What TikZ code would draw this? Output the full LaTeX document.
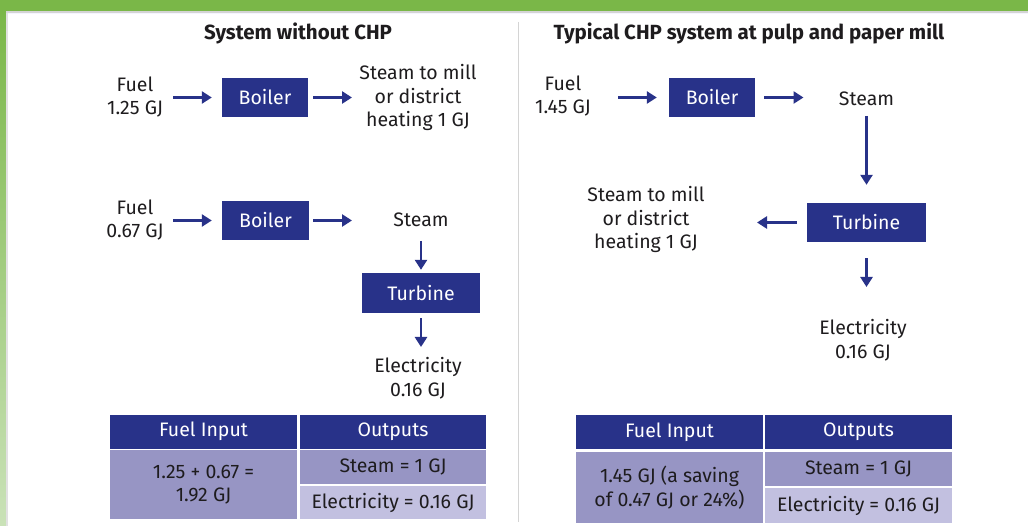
\documentclass[tikz,border=0pt]{standalone}
\usepackage{fontspec}
\setmainfont{Fira Sans}
\usetikzlibrary{arrows.meta}
\definecolor{navy}{RGB}{40,50,137}
\definecolor{lav}{RGB}{151,149,196}
\definecolor{lavl}{RGB}{194,192,224}
\definecolor{grn}{RGB}{122,183,72}
\definecolor{grnl}{RGB}{202,226,184}
\definecolor{txt}{RGB}{30,28,30}
\definecolor{divgray}{RGB}{212,212,212}
\begin{document}
\begin{tikzpicture}[x=1pt,y=-1pt,
  every node/.style={font=\fontsize{19.5}{23.5}\selectfont, text=txt, inner sep=0pt},
  lbl/.style={align=center},
  ttl/.style={font=\fontsize{20.5}{24}\selectfont\bfseries},
  box/.style={fill=navy, text=white, minimum height=39},
  hcell/.style={fill=navy, text=white, minimum width=187, minimum height=34},
  cell/.style={fill=lav, align=center, minimum width=187},
  cellb/.style={fill=lavl, align=center, minimum width=187},
  arr/.style={draw=navy, line width=2.6pt, -{Triangle[length=10pt,width=12pt]}}]
\useasboundingbox (0,0) rectangle (1028,526);
% frame
\fill[white] (0,0) rectangle (1028,526);
\fill[grn] (0,0) rectangle (1028,11);
\shade[top color=grn, bottom color=grnl] (0,11) rectangle (6,526);
\fill[divgray] (6,11) rectangle (1028,13);
\fill[blue!4] (6,13) rectangle (1028,14.5);
\fill[divgray!70] (6,13) rectangle (8,526);
% divider
\draw[divgray, line width=1.6pt] (518.5,22) -- (518.5,522);
% titles
\node[ttl] (title1) at (298,33) {System without CHP};
\node[ttl] (title2) at (749,33) {Typical CHP system at pulp and paper mill};
% left diagram
\node[lbl] (fuel1) at (135,97) {Fuel\\1.25 GJ};
\node[box, minimum width=86] (boiler1) at (265,97.5) {Boiler};
\node[lbl] (mill1) at (418,97.5) {Steam to mill\\or district\\heating 1 GJ};
\node[lbl] (fuel2) at (135,220) {Fuel\\0.67 GJ};
\node[box, minimum width=87] (boiler2) at (265.5,220.5) {Boiler};
\node (steam1) at (421,220) {Steam};
\node[box, minimum width=118, minimum height=40] (turbine1) at (421,293) {Turbine};
\node[lbl] (elec1) at (418,378) {Electricity\\0.16 GJ};
\draw[arr, shorten <=38pt, shorten >=10pt] (fuel1.center |- boiler1.west) -- (boiler1.west);
\draw[arr, shorten <=5pt, shorten >=66pt] (boiler1.east) -- (boiler1.east -| mill1.center);
\draw[arr, shorten <=38pt, shorten >=10pt] (fuel2.center |- boiler2.west) -- (boiler2.west);
\draw[arr, shorten <=4pt, shorten >=69pt] (boiler2.east) -- (boiler2.east -| steam1.center);
\draw[arr, shorten <=21pt, shorten >=3pt] (steam1.center) -- (turbine1.north);
\draw[arr, shorten <=5pt, shorten >=31pt] (turbine1.south) -- (turbine1.south |- elec1.center);
% right diagram
\node[lbl] (fuel3) at (563,96) {Fuel\\1.45 GJ};
\node[box, minimum width=86] (boiler3) at (712,97.5) {Boiler};
\node (steam2) at (866.5,99) {Steam};
\node[box, minimum width=119] (turbine2) at (866.5,222.5) {Turbine};
\node[lbl] (mill2) at (646,219.5) {Steam to mill\\or district\\heating 1 GJ};
\node[lbl] (elec2) at (863,340) {Electricity\\0.16 GJ};
\draw[arr, shorten <=55pt, shorten >=12pt] (fuel3.center |- boiler3.west) -- (boiler3.west);
\draw[arr, shorten <=9pt, shorten >=63pt] (boiler3.east) -- (boiler3.east -| steam2.center);
\draw[arr, shorten <=17pt, shorten >=18pt] (steam2.center) -- (turbine2.north);
\draw[arr, shorten <=10pt, shorten >=111pt] (turbine2.west) -- (turbine2.west -| mill2.center);
\draw[arr, shorten <=16pt, shorten >=53pt] (turbine2.south) -- (turbine2.south |- elec2.center);
% left table
\node[hcell] (th1) at (203.5,431.5) {Fuel Input};
\node[hcell, minimum width=186] (th2) at (393,431.5) {Outputs};
\node[cell, minimum height=69] (td1) at (203.5,484.5) {1.25 + 0.67 =\\1.92 GJ};
\node[cell, minimum width=186, minimum height=34] (td2) at (393,467) {Steam = 1 GJ};
\node[cellb, minimum width=186, minimum height=33] (td3) at (393,502.5) {Electricity = 0.16 GJ};
% right table
\node[hcell] (th3) at (669.5,432) {Fuel Input};
\node[hcell] (th4) at (858.5,432) {Outputs};
\node[cell, minimum height=71] (td4) at (669.5,487.5) {1.45 GJ (a saving\\of 0.47 GJ or 24\%)};
\node[cell, minimum height=34] (td5) at (858.5,469) {Steam = 1 GJ};
\node[cellb, minimum height=35] (td6) at (858.5,505.5) {Electricity = 0.16 GJ};
\end{tikzpicture}
\end{document}
